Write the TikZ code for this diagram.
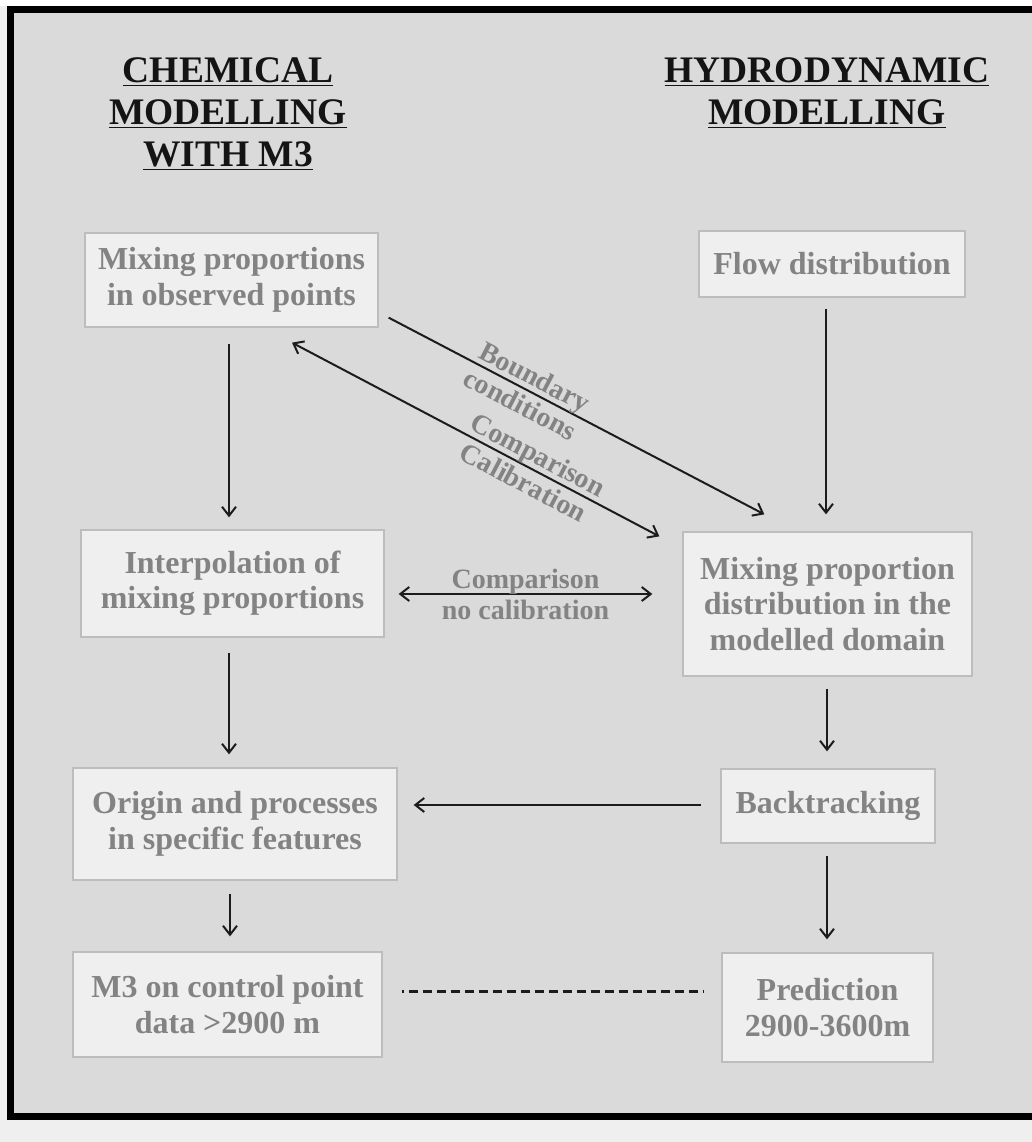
\documentclass[tikz,border=0pt]{standalone}
\usepackage{fontspec}
\setmainfont{Liberation Serif}
\usetikzlibrary{arrows.meta,calc}
\definecolor{bgc}{HTML}{DADADA}
\definecolor{outerc}{HTML}{EFEFEF}
\definecolor{boxfill}{HTML}{EFEFEF}
\definecolor{boxline}{HTML}{BDBDBD}
\definecolor{txtc}{HTML}{838383}
\definecolor{arrc}{HTML}{1C1C1C}
\begin{document}
\begin{tikzpicture}[x=1pt,y=-1pt,
  box/.style={draw=boxline, fill=boxfill, line width=1.3pt, text=txtc,
    font=\fontsize{32}{35.5}\selectfont\bfseries, align=center, inner sep=0pt},
  hd/.style={text=black!92, font=\fontsize{37.5}{42}\selectfont\bfseries, anchor=base, inner sep=0pt},
  lbl/.style={text=txtc, font=\fontsize{28}{31}\selectfont\bfseries, align=center, inner sep=0pt},
  arr/.style={draw=arrc, line width=2pt, -{Straight Barb[length=9pt,width=14pt]}},
  darr/.style={draw=arrc, line width=2pt, {Straight Barb[length=9pt,width=14pt]}-{Straight Barb[length=9pt,width=14pt]}},
  dline/.style={draw=arrc, line width=3pt, dash pattern=on 9pt off 5pt, dash phase=7pt}]
\useasboundingbox (0,0) rectangle (1032,1142);
\fill[outerc] (0,0) rectangle (1032,1142);
\fill[white] (0,0) rectangle (1032,6);
\filldraw[fill=bgc, draw=black, line width=7pt] (10.5,9.5) rectangle (1045,1116.5);

% headings
\node[hd] (h1) at (228,83) {\underline{CHEMICAL}};
\node[hd] (h2) at (228,125) {\underline{MODELLING}};
\node[hd] (h3) at (228,167) {\underline{WITH M3}};
\node[hd] (h4) at (827,83) {\underline{HYDRODYNAMIC}};
\node[hd] (h5) at (827,125) {\underline{MODELLING}};

% boxes
\node[box, minimum width=293pt, minimum height=94pt] (obs) at (231.5,280) {Mixing proportions\\in observed points};
\node[box, minimum width=266pt, minimum height=66pt] (flow) at (832,264) {Flow distribution};
\node[box, minimum width=303pt, minimum height=107pt] (interp) at (232.5,583.5) {Interpolation of\\mixing proportions};
\node[box, minimum width=289pt, minimum height=144pt] (dist) at (827.5,604) {Mixing proportion\\distribution in the\\modelled domain};
\node[box, minimum width=324pt, minimum height=112pt] (origin) at (235,824) {Origin and processes\\in specific features};
\node[box, minimum width=214pt, minimum height=74pt] (back) at (828,806) {Backtracking};
\node[box, minimum width=309pt, minimum height=105pt] (m3) at (227.5,1004.5) {M3 on control point\\data >2900 m};
\node[box, minimum width=211pt, minimum height=109pt] (pred) at (827.5,1007.5) {Prediction\\2900-3600m};

% vertical arrows
\draw[arr] ($(obs.south)+(-2.5,16)$) -- ($(interp.north)+(-3.5,-12)$);
\draw[arr] ($(flow.south)+(-6,11)$) -- ($(dist.north)+(-1.5,-17)$);
\draw[arr] ($(interp.south)+(-3.5,15)$) -- ($(origin.north)+(-6,-13)$);
\draw[arr] ($(dist.south)+(-0.5,12)$) -- ($(back.north)+(-1,-17)$);
\draw[arr] ($(origin.south)+(-5,13)$) -- ($(m3.north)+(2.5,-15)$);
\draw[arr] ($(back.south)+(-1,12)$) -- ($(pred.north)+(-0.5,-13)$);

% horizontal
\draw[arr] ($(back.west)+(-19,-1)$) -- ($(origin.east)+(16,-19)$);
\draw[darr] ($(interp.east)+(14,10.5)$) -- node[lbl] (l1) {Comparison\\no calibration} ($(dist.west)+(-30,-10)$);
\draw[dline] ($(m3.east)+(19,-13.5)$) -- ($(pred.west)+(-18,-16.5)$);

% diagonals
\draw[arr] ($(obs.south east)+(10,-10)$) -- node[lbl, sloped, pos=0.37] (l2) {Boundary\\conditions} ($(dist.north west)+(82,-17)$);
\draw[darr] ($(obs.south)+(60.5,15)$) -- node[lbl, sloped, pos=0.65] (l3) {Comparison\\Calibration} ($(dist.north west)+(-23,5)$);
\end{tikzpicture}
\end{document}
